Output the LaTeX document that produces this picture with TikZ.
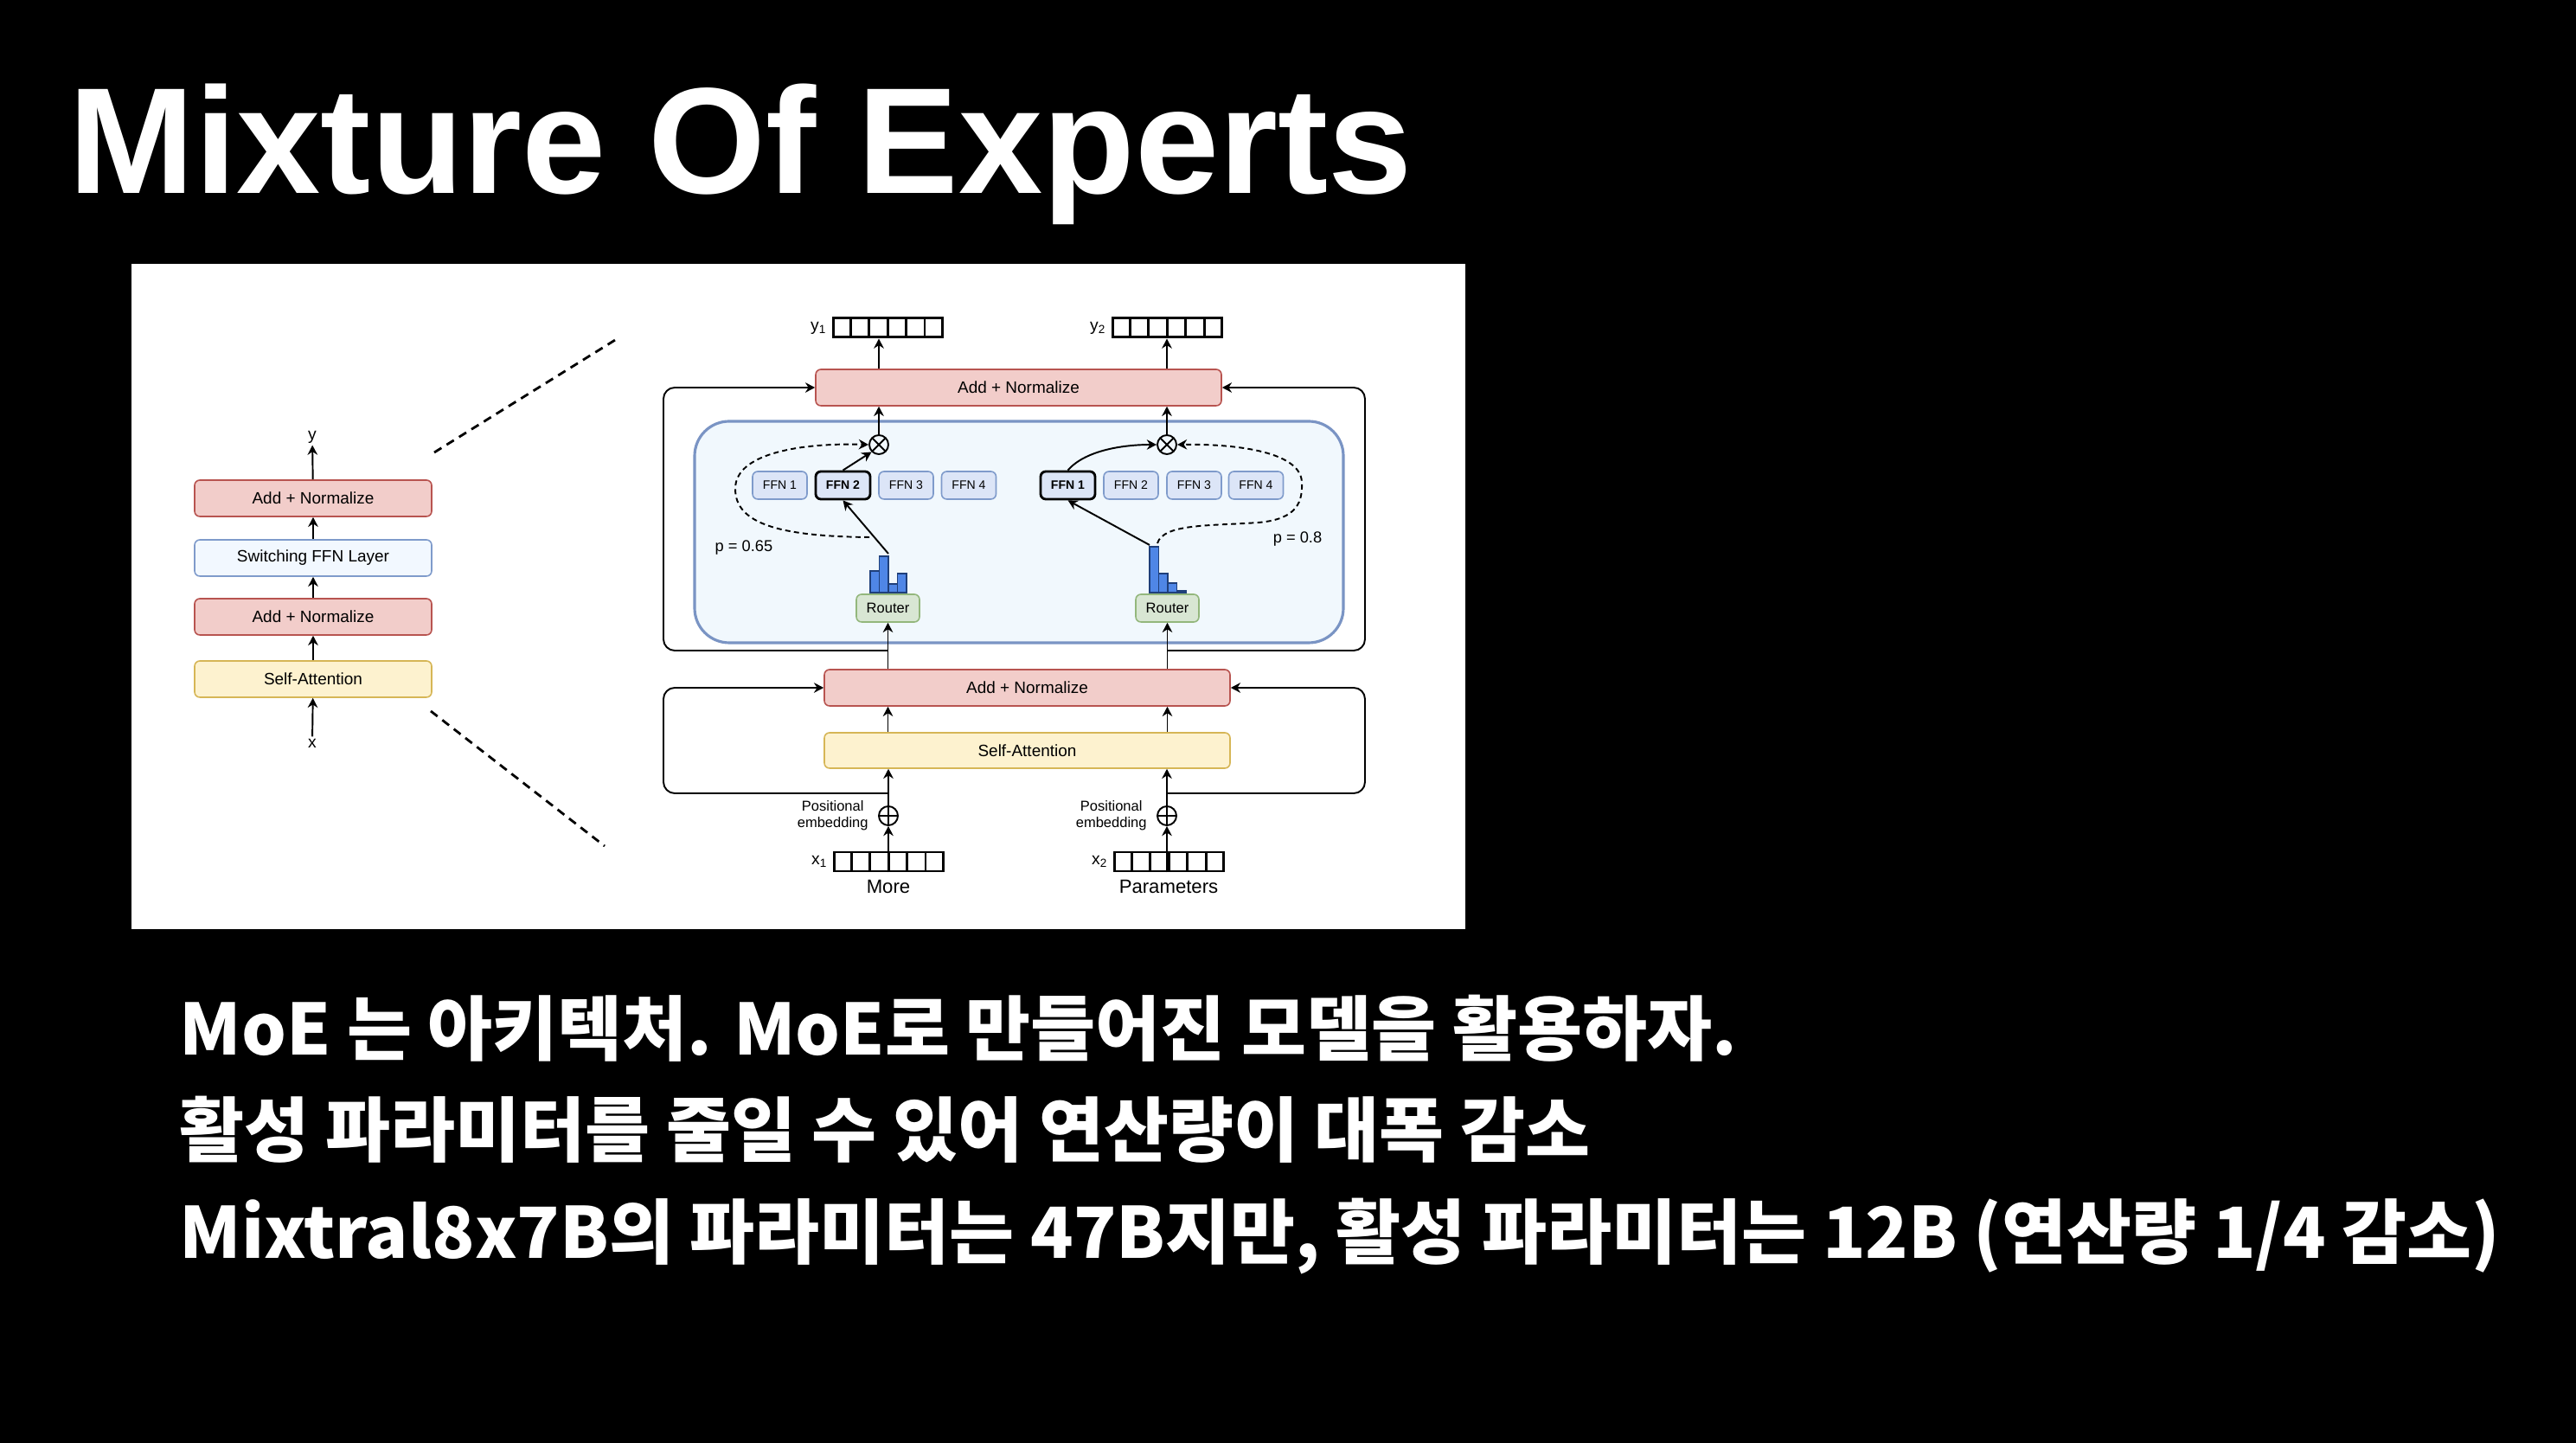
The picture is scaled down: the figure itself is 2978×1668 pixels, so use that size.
\documentclass[tikz,border=0pt]{standalone}
\usepackage{fontspec}
\setmainfont{Liberation Sans}
\newfontfamily\krfont{Noto Sans CJK KR}
\usetikzlibrary{arrows.meta,positioning,calc}

\definecolor{anfill}{HTML}{F2CDCA}
\definecolor{andraw}{HTML}{B85450}
\definecolor{safill}{HTML}{FDF2CF}
\definecolor{sadraw}{HTML}{D6B656}
\definecolor{swfill}{HTML}{F2F8FF}
\definecolor{ffnfill}{HTML}{DCE5F7}
\definecolor{ffndraw}{HTML}{7F9BCB}
\definecolor{rtfill}{HTML}{D8E6D3}
\definecolor{rtdraw}{HTML}{93B77C}
\definecolor{moefill}{HTML}{F1F8FD}
\definecolor{moedraw}{HTML}{7A94C4}
\definecolor{barfill}{HTML}{4F86E6}
\definecolor{bardraw}{HTML}{1F3F7A}

\begin{document}
\begin{tikzpicture}[x=0.1mm, y=-0.1mm, >={Stealth[length=3.2pt,width=3.3pt]},
    blockbox/.style={draw, rounded corners=0.6mm, line width=0.45pt, minimum height=4.2mm,
        inner sep=0pt, font=\fontsize{5.4}{6}\selectfont},
    addnorm/.style={blockbox, fill=anfill, draw=andraw},
    selfatt/.style={blockbox, fill=safill, draw=sadraw},
    switchbox/.style={blockbox, fill=swfill, draw=ffndraw},
    ffn/.style={blockbox, fill=ffnfill, draw=ffndraw, minimum width=6.3mm, minimum height=3.2mm,
        font=\fontsize{4}{4.5}\selectfont},
    ffnsel/.style={ffn, draw=black, line width=0.8pt, font=\fontsize{4}{4.5}\selectfont\bfseries},
    router/.style={blockbox, fill=rtfill, draw=rtdraw, minimum width=7.3mm, minimum height=3.2mm,
        font=\fontsize{4.7}{5}\selectfont},
    vecbox/.style={draw, line width=0.85pt, minimum width=12.6mm, minimum height=2.2mm, inner sep=0pt},
    lbl/.style={inner sep=0.5pt, font=\fontsize{5.5}{6}\selectfont},
    arr/.style={->, line width=0.55pt},
    gatenode/.style={circle, draw, line width=0.55pt, minimum size=2.2mm, inner sep=0pt},
    otimesnode/.style={gatenode, path picture={
        \draw[line width=0.55pt] (path picture bounding box.north west) -- (path picture bounding box.south east)
            (path picture bounding box.south west) -- (path picture bounding box.north east);}},
    oplusnode/.style={gatenode, path picture={
        \draw[line width=0.55pt] (path picture bounding box.north) -- (path picture bounding box.south)
            (path picture bounding box.west) -- (path picture bounding box.east);}},
    dashline/.style={line width=0.55pt, dash pattern=on 1.7pt off 1.2pt},
    zoomline/.style={line width=0.8pt, dash pattern=on 2.8pt off 2pt},
    histbar/.style={fill=barfill, draw=bardraw, line width=0.3pt}]

    % slide background and picture panel
    \fill[black] (0,0) rectangle (2978,1668);
    \fill[white] (152,305) rectangle (1694,1074);

    \node[anchor=base west, inner sep=0pt, text=white, font=\fontsize{49.7}{60}\selectfont\bfseries]
        (title) at (79,224) {Mixture Of Experts};

    % left: one transformer block
    \node[addnorm, minimum width=27.4mm] (lan1) at (362,576) {Add + Normalize};
    \node[switchbox, minimum width=27.4mm] (lsw) at (362,645) {Switching FFN Layer};
    \node[addnorm, minimum width=27.4mm] (lan2) at (362,713) {Add + Normalize};
    \node[selfatt, minimum width=27.4mm] (lsa) at (362,785) {Self-Attention};
    \node[lbl] (ly) at (361,505) {y};
    \node[lbl] (lx) at (361,859) {x};
    \draw[arr] (lx) -- (lsa);
    \draw[arr] (lsa) -- (lan2);
    \draw[arr] (lan2) -- (lsw);
    \draw[arr] (lsw) -- (lan1);
    \draw[arr] (lan1) -- (ly);
    \coordinate (zt0) at (502,523);
    \coordinate (zt1) at (716,390);
    \coordinate (zb0) at (498,822);
    \coordinate (zb1) at (699,978);
    \draw[zoomline] (zt0) -- (zt1);
    \draw[zoomline] (zb0) -- (zb1);

    % right: switch layer in detail
    \node[draw=moedraw, fill=moefill, line width=0.9pt, rounded corners=4mm,
        minimum width=75mm, minimum height=25.6mm] (moe) at (1178,615) {};
    \node[addnorm, minimum width=46.9mm] (ran1) at (1177.5,448) {Add + Normalize};
    \node[addnorm, minimum width=46.9mm] (ran2) at (1187.5,795) {Add + Normalize};
    \node[selfatt, minimum width=46.9mm, minimum height=4.1mm] (rsa) at (1187.5,867.5) {Self-Attention};

    \node[vecbox] (y1v) at (1026,379) {};
    \node[vecbox] (y2v) at (1349,379) {};
    \node[vecbox] (x1v) at (1027,996) {};
    \node[vecbox] (x2v) at (1351,996) {};
    \foreach \v in {y1v,y2v,x1v,x2v}
        \foreach \k in {1,...,5}
            \draw[line width=0.85pt] ($(\v.north west)!\k/6!(\v.north east)$) -- ($(\v.south west)!\k/6!(\v.south east)$);
    \node[lbl, left=0.3mm of y1v] (y1) {y\textsubscript{1}};
    \node[lbl, left=0.3mm of y2v] (y2) {y\textsubscript{2}};
    \node[lbl, left=0.3mm of x1v] (x1) {x\textsubscript{1}};
    \node[lbl, left=0.3mm of x2v] (x2) {x\textsubscript{2}};
    \node[lbl, below=0.6mm of x1v, font=\fontsize{6.3}{7}\selectfont] (more) {More};
    \node[lbl, below=0.6mm of x2v, font=\fontsize{6.3}{7}\selectfont] (params) {Parameters};

    \node[otimesnode] (otL) at (1016,514) {};
    \node[otimesnode] (otR) at (1349,514) {};
    \node[oplusnode] (opL) at (1027,943) {};
    \node[oplusnode] (opR) at (1349,943) {};
    \node[lbl, left=0.9mm of opL, align=center, font=\fontsize{4.7}{5.5}\selectfont] (posL) {Positional\\embedding};
    \node[lbl, left=0.9mm of opR, align=center, font=\fontsize{4.7}{5.5}\selectfont] (posR) {Positional\\embedding};

    \foreach \i/\xx/\st in {1/901.5/ffn,2/974.5/ffnsel,3/1047.5/ffn,4/1120/ffn}
        \node[\st] (fl\i) at (\xx,561) {FFN \i};
    \foreach \i/\xx/\st in {1/1234.5/ffnsel,2/1307.5/ffn,3/1380.5/ffn,4/1452/ffn}
        \node[\st] (fr\i) at (\xx,561) {FFN \i};

    \node[router] (rouL) at (1026.5,703) {Router};
    \node[router] (rouR) at (1349.5,703) {Router};
    \foreach \xa/\yt in {1006/660,1016.5/643,1027/675,1037.5/663}
        \draw[histbar] (\xa,\yt) rectangle ({\xa+10.5},685);
    \foreach \xa/\yt in {1329/632,1339.5/663,1350/674,1360.5/683}
        \draw[histbar] (\xa,\yt) rectangle ({\xa+10.5},685);
    \node[lbl, font=\fontsize{5.2}{6}\selectfont] (pL) at (860,633) {p = 0.65};
    \node[lbl, font=\fontsize{5.2}{6}\selectfont] (pR) at (1500,623) {p = 0.8};

    \coordinate (hLt) at (1027,640);
    \coordinate (hRt) at (1329,630);
    \coordinate (dL) at (1005,621);
    \coordinate (dR) at (1338,628);
    \draw[arr] (hLt) -- (fl2.south);
    \draw[arr] (fl2.north) -- (otL.south west);
    \draw[arr] (hRt) -- (fr1.south);
    \draw[arr] (fr1.north) .. controls (1255,520) and (1300,514) .. (otR.west);
    \draw[dashline, ->] (dL) .. controls (900,620) and (850,605) .. (850,565)
        .. controls (850,520) and (940,512) .. (otL.west);
    \draw[dashline, ->] (dR) .. controls (1345,605) and (1400,608) .. (1455,604)
        .. controls (1500,600) and (1506,580) .. (1505,557)
        .. controls (1503,520) and (1420,513) .. (otR.east);

    \draw[arr] (otL) -- (otL |- ran1.south);
    \draw[arr] (otR) -- (otR |- ran1.south);
    \draw[arr] (otL |- ran1.north) -- (otL |- y1v.south);
    \draw[arr] (otR |- ran1.north) -- (otR |- y2v.south);
    \draw[arr] (rouL.south |- ran2.north) -- (rouL.south);
    \draw[arr] (rouR.south |- ran2.north) -- (rouR.south);
    \draw[arr] (rouL.south |- rsa.north) -- (rouL.south |- ran2.south);
    \draw[arr] (rouR.south |- rsa.north) -- (rouR.south |- ran2.south);
    \draw[arr] (opL) -- (opL |- rsa.south);
    \draw[arr] (opR) -- (opR |- rsa.south);
    \draw[arr] (x1v.south) -- (opL);
    \draw[arr] (x2v.south -| opR) -- (opR);

    % residual loops
    \coordinate (loopL) at (767,0);
    \coordinate (loopR) at (1578,0);
    \coordinate (sk1L) at (1026,752);
    \coordinate (sk1R) at (1349,752);
    \coordinate (sk2L) at (1027,917);
    \coordinate (sk2R) at (1349,917);
    \draw[arr, rounded corners=1.3mm] (sk1L) -- (loopL |- sk1L) -- (loopL |- ran1.west) -- (ran1.west);
    \draw[arr, rounded corners=1.3mm] (sk1R) -- (loopR |- sk1R) -- (loopR |- ran1.east) -- (ran1.east);
    \draw[arr, rounded corners=1.3mm] (sk2L) -- (loopL |- sk2L) -- (loopL |- ran2.west) -- (ran2.west);
    \draw[arr, rounded corners=1.3mm] (sk2R) -- (loopR |- sk2R) -- (loopR |- ran2.east) -- (ran2.east);

    % notes below the picture
    \node[anchor=base west, inner sep=0pt, text=white, font={\krfont\fontsize{23.2}{30}\selectfont\bfseries}]
        (kl1) at (207,1220) {MoE 는 아키텍처. MoE로 만들어진 모델을 활용하자.};
    \node[anchor=base west, inner sep=0pt, text=white, font={\krfont\fontsize{23.2}{30}\selectfont\bfseries}]
        (kl2) at (207,1337) {활성 파라미터를 줄일 수 있어 연산량이 대폭 감소};
    \node[anchor=base west, inner sep=0pt, text=white, font={\krfont\fontsize{23.2}{30}\selectfont\bfseries}]
        (kl3) at (207,1455) {Mixtral8x7B의 파라미터는 47B지만, 활성 파라미터는 12B (연산량 1/4 감소)};
\end{tikzpicture}
\end{document}
